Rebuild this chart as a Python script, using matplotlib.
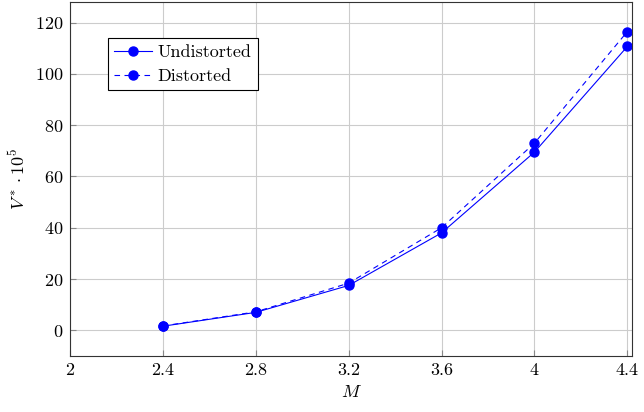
import matplotlib.pyplot as plt

plt.rcParams['font.family'] = 'cmr10'
plt.rcParams['mathtext.fontset'] = 'cm'
plt.rcParams['axes.formatter.use_mathtext'] = True
plt.rcParams['font.size'] = 13

M = [2.4, 2.8, 3.2, 3.6, 4.0, 4.4]
undistorted = [1.6, 7.0, 17.5, 38.0, 69.5, 110.7]
distorted = [1.7, 7.2, 18.4, 40.0, 73.0, 116.5]

xticks = [2, 2.4, 2.8, 3.2, 3.6, 4, 4.4]
xticklabels = ['2', '2.4', '2.8', '3.2', '3.6', '4', '4.4']
yticks = [0, 20, 40, 60, 80, 100, 120]

fig = plt.figure(figsize=(6.44, 4.12), dpi=100)
ax = fig.add_axes([0.1087, 0.136, 0.8727, 0.859])

ax.plot(M, undistorted, color='blue', linewidth=0.8, marker='o', markersize=6.5,
        label='Undistorted')
ax.plot(M, distorted, color='blue', linewidth=0.8, linestyle=(0, (5, 4)),
        marker='o', markersize=6.5, label='Distorted')

ax.set_xlim(2, 4.42)
ax.set_ylim(-10, 128)
ax.set_xticks(xticks)
ax.set_xticklabels(xticklabels)
ax.set_yticks(yticks)
ax.grid(True, color='#cccccc', linewidth=0.8)
ax.set_axisbelow(True)
ax.tick_params(direction='in', length=4, color='#888888', pad=5)
for s in ax.spines.values():
    s.set_linewidth(0.8)
    s.set_color('#333333')

ax.set_xlabel('$M$', labelpad=4)
ax.set_ylabel(r'$V^* \cdot 10^5$', labelpad=5)

leg = ax.legend(loc='upper left', bbox_to_anchor=(0.067, 0.898), fancybox=False,
                framealpha=1, edgecolor='black', borderpad=0.35, handlelength=2.1,
                handletextpad=0.3, labelspacing=0.45, borderaxespad=0)
leg.get_frame().set_linewidth(0.8)

fig.savefig('out.png', dpi=100)
